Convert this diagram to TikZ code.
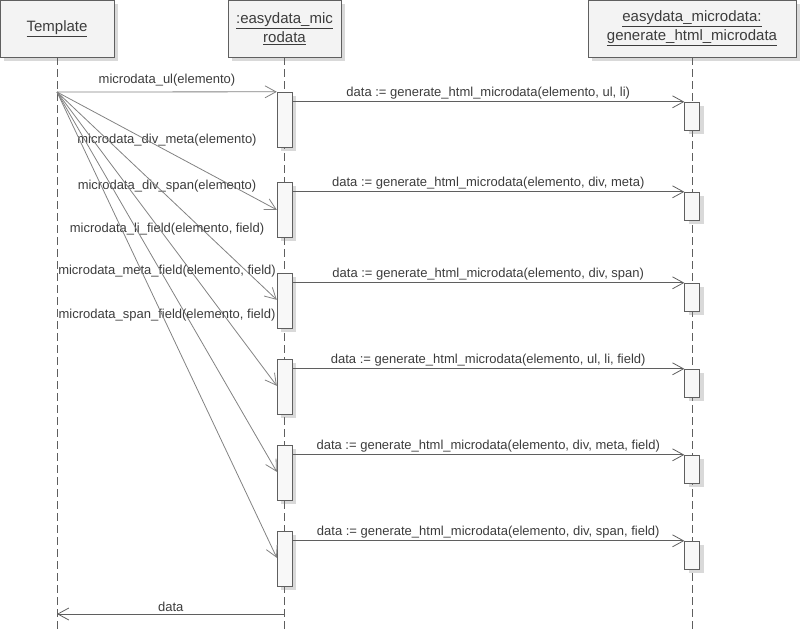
\documentclass[tikz,border=0pt]{standalone}
\usepackage{fontspec}
\setmainfont{Liberation Sans}
\usetikzlibrary{arrows.meta,shadows}
\definecolor{linegray}{RGB}{95,95,95}
\definecolor{callgray}{RGB}{130,130,130}
\definecolor{textgray}{RGB}{60,60,60}
\definecolor{headfill}{RGB}{243,243,243}
\definecolor{actfill}{RGB}{248,248,248}
\begin{document}
\begin{tikzpicture}[x=1pt,y=-1pt,
  shade/.style={drop shadow={opacity=0.3,shadow xshift=4pt,shadow yshift=-4pt}},
  head/.style={draw=linegray,fill=headfill,shade,minimum height=57pt,align=center,text=textgray,font=\fontsize{15}{19}\selectfont},
  act/.style={draw=linegray,fill=actfill,shade,minimum width=15pt,inner sep=0pt},
  life/.style={draw=linegray,dash pattern=on 8pt off 4pt},
  call/.style={draw=callgray,line width=0.8pt,-{Straight Barb[length=11pt,width=12pt]}},
  msg/.style={draw=linegray,line width=0.8pt,-{Straight Barb[length=11pt,width=12pt]}},
  lbl/.style={text=textgray,inner sep=1pt,font=\fontsize{13}{15}\selectfont}]
\useasboundingbox (0,0) rectangle (811,630);
% lifelines
\node[head,minimum width=114pt] (tpl) at (57,28.5) {\underline{Template}};
\node[head,minimum width=113pt] (obj) at (284.5,28.5) {\underline{:easydata\_mic}\\\underline{rodata}};
\node[head,minimum width=208pt] (gen) at (692,28.5) {\underline{easydata\_microdata:}\\\underline{generate\_html\_microdata}};
\draw[life] (tpl.south) -- ++(0,573);
\draw[life] (obj.south) -- ++(0,573);
\draw[life] (gen.south) -- ++(0,573);
\coordinate (src) at (57,92);
% calls
\foreach \i/\y/\d/\ly/\call/\args in {
  1/92/0/80/{microdata\_ul(elemento)}/{ul, li},
  2/182/28/140/{microdata\_div\_meta(elemento)}/{div, meta},
  3/273/27/186/{microdata\_div\_span(elemento)}/{div, span},
  4/359/27/229/{microdata\_li\_field(elemento, field)}/{ul, li, field},
  5/445/27/271/{microdata\_meta\_field(elemento, field)}/{div, meta, field},
  6/531/27/315/{microdata\_span\_field(elemento, field)}/{div, span, field}}{
  \node[act,minimum height=55pt] (a\i) at (284.5,\y+27.5) {};
  \node[act,minimum height=28pt] (b\i) at (692,\y+24) {};
  \node[lbl] (c\i) at (167,\ly) {\call};
  \draw[call] (src) -- ([yshift=-\d pt]a\i.north west);
  \draw[msg] (a\i.east |- b\i.north) -- node[lbl,above=1pt] (m\i) {data := generate\_html\_microdata(elemento, \args)} (b\i.north west);
}
% return
\coordinate (back) at (284.5,614);
\draw[msg] (back) -- node[lbl,above=1pt] (r) {data} (tpl.south |- back);
\end{tikzpicture}
\end{document}
